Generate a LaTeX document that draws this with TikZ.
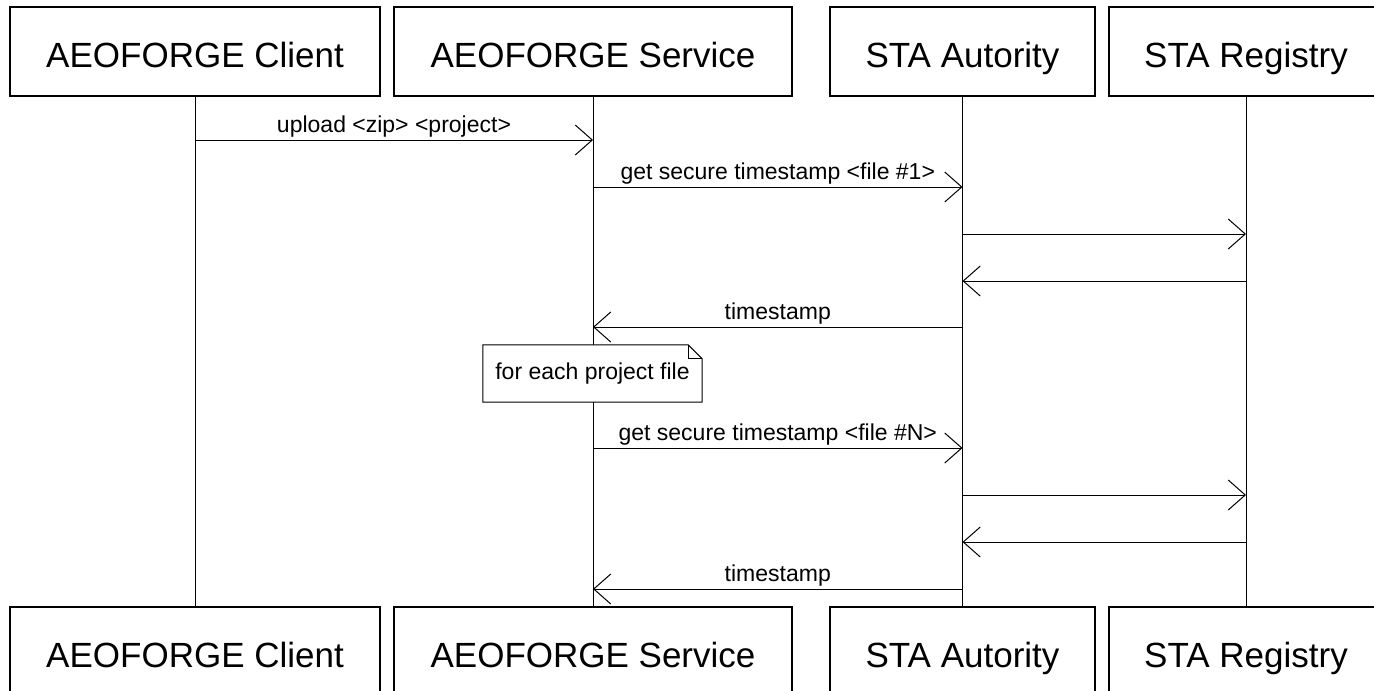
\documentclass[tikz,border=0pt]{standalone}
\usepackage{fontspec}
\setmainfont{Liberation Sans}
\usetikzlibrary{arrows.meta}

\begin{document}
\begin{tikzpicture}[x=1pt,y=-1pt,
		actor/.style={draw,line width=1.2pt,inner sep=0pt,minimum height=89pt,text height=31pt,text depth=0pt,font=\fontsize{35}{40}\selectfont},
		msg/.style={line width=1pt,-{Straight Barb[length=17pt,width=30pt,line width=1pt]}},
		lbl/.style={above,inner sep=2pt,font=\fontsize{23}{27}\selectfont}]
			\useasboundingbox (0,0) rectangle (1374,691);
			\clip (0,0) rectangle (1374,691);

			% top row
			\node[actor,minimum width=370] (c) at (195, 51.5) {AEOFORGE Client};
			\node[actor,minimum width=398] (s) at (593, 51.5) {AEOFORGE Service};
			\node[actor,minimum width=265] (a) at (962.5, 51.5) {STA Autority};
			\node[actor,minimum width=274] (r) at (1246, 51.5) {STA Registry};

			% bottom row
			\node[actor,minimum width=370] (c') at (195, 651.5) {AEOFORGE Client};
			\node[actor,minimum width=398] (s') at (593, 651.5) {AEOFORGE Service};
			\node[actor,minimum width=265] (a') at (962.5, 651.5) {STA Autority};
			\node[actor,minimum width=274] (r') at (1246, 651.5) {STA Registry};

			\draw[line width=1pt] (c) -- (c');
			\draw[line width=1pt] (s) -- (s');
			\draw[line width=1pt] (a) -- (a');
			\draw[line width=1pt] (r) -- (r');

			\foreach \n/\y in {1/140,2/187,3/234,4/281,5/327,6/448,7/495,8/542,9/589}
				\coordinate (m\n) at (0,\y);

			\draw[msg] (c |- m1) to node[lbl] {upload <zip> <project>} (s |- m1);
			\draw[msg] (s |- m2) to node[lbl] {get secure timestamp <file \#1>} (a |- m2);
			\draw[msg] (a |- m3) to (r |- m3);
			\draw[msg] (r |- m4) to (a |- m4);
			\draw[msg] (a |- m5) to node[lbl] {timestamp} (s |- m5);

			\draw[msg] (s |- m6) to node[lbl] {get secure timestamp <file \#N>} (a |- m6);
			\draw[msg] (a |- m7) to (r |- m7);
			\draw[msg] (r |- m8) to (a |- m8);
			\draw[msg] (a |- m9) to node[lbl] {timestamp} (s |- m9);

			% note
			\node[minimum width=219,minimum height=57,inner sep=0pt] (note) at (592.5, 373.5) {};
			\filldraw[fill=white,line width=1pt] (note.south west) -- (note.north west) -- ([xshift=-14]note.north east)
				-- ([yshift=-14]note.north east) -- (note.south east) -- cycle;
			\draw[line width=1pt] ([xshift=-14]note.north east) |- ([yshift=-14]note.north east);
			\node[font=\fontsize{23}{27}\selectfont] (notetext) at (note) {for each project file};
		\end{tikzpicture}
\end{document}
